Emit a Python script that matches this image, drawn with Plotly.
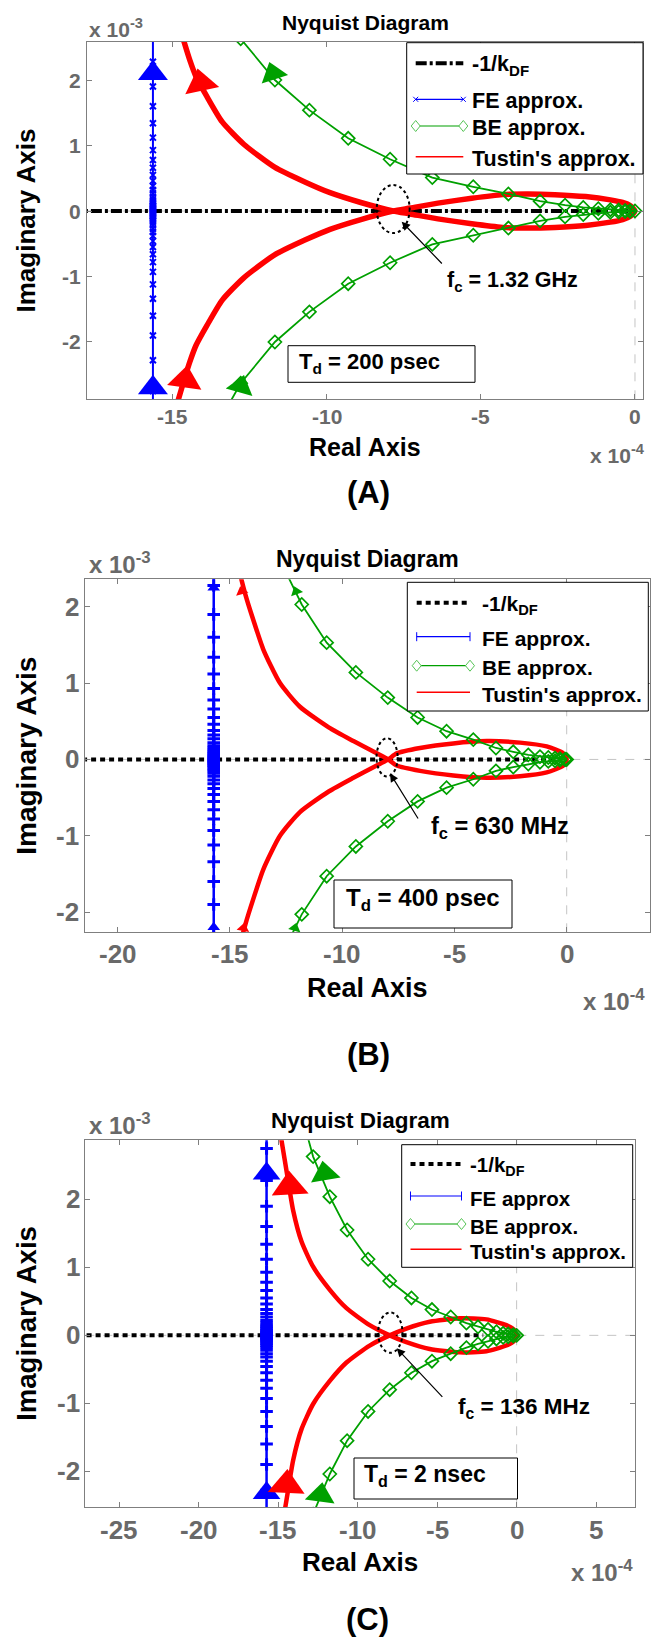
import plotly.graph_objects as go

W, H = 652, 1638
FONT = "Liberation Sans, Arial, sans-serif"
TICK_GRAY = "#696969"
AXIS_GRAY = "#7f7f7f"
BLUE = "#0000ff"
GREEN = "#00a000"
RED = "#ff0000"

# Real parts in units of 1e-4, imaginary parts in units of 1e-3.
# Each locus is stored for one frequency branch; the other branch is its mirror image.

# FE approximation: vertical locus, imaginary samples above the real axis
FE_IM = [0, 0.015, 0.03, 0.045, 0.06, 0.08, 0.1, 0.125, 0.15, 0.18, 0.22, 0.27,
         0.32, 0.38, 0.46, 0.55, 0.66, 0.78, 0.93, 1.12, 1.34, 1.6, 1.9, 2.28, 2.75, 3.35]

# (A) Td = 200 psec
A_FE_RE = -15.65
A_BE_RE = [0, -0.16, -0.32, -0.53, -0.8, -1.19, -1.68, -2.27, -3.08, -4.11, -5.25,
           -6.58, -7.95, -9.31, -10.57, -11.69, -12.8, -13.6]
A_BE_IM = [0, 0.005, 0.01, 0.015, 0.02, 0.035, 0.055, 0.09, 0.15, 0.26, 0.37,
           0.51, 0.79, 1.11, 1.54, 2.0, 2.63, 3.3]
A_TU_RE = [0, -0.15, -0.4, -0.8, -1.6, -2.6, -3.5, -4.3, -5.3, -6.4, -7.3, -7.85,
           -8.9, -9.9, -10.7, -11.7, -12.7, -13.4, -13.9, -14.25, -14.45, -14.65, -14.9]
A_TU_IM = [0, -0.08, -0.13, -0.17, -0.22, -0.25, -0.26, -0.25, -0.195, -0.12, -0.045, 0,
           0.13, 0.28, 0.44, 0.67, 1.02, 1.36, 1.75, 2.05, 2.3, 2.6, 3.0]
A_KDF_RE = [-30.0, 0.0]
A_FC_RE = -7.85
A_ARROW_RE = [-15.65, -15.65, -14.1, -14.6, -11.75, -12.8]
A_ARROW_IM = [2.1, -2.7, 1.95, -2.58, 2.1, -2.68]
A_XTICKS = [-15, -10, -5, 0]
A_YTICKS = [-2, -1, 0, 1, 2]

# (B) Td = 400 psec
B_FE_RE = -15.72
B_BE_RE = [0, -0.07, -0.3, -0.52, -0.82, -1.19, -1.71, -2.38, -3.15, -4.16, -5.35,
           -6.64, -7.97, -9.39, -10.69, -11.8, -12.8, -13.6]
B_BE_IM = [0, 0.003, 0.01, 0.018, 0.025, 0.037, 0.06, 0.1, 0.15, 0.26, 0.37,
           0.55, 0.81, 1.14, 1.53, 2.03, 2.63, 3.3]
B_TU_RE = [0, -0.15, -0.89, -2.08, -3.56, -5.05, -6.53, -7.57, -7.95, -8.46, -9.5,
           -10.6, -11.88, -12.77, -13.51, -13.96, -14.3, -14.6, -14.85]
B_TU_IM = [0, -0.08, -0.17, -0.22, -0.24, -0.21, -0.15, -0.08, 0, 0.08, 0.24,
           0.42, 0.69, 1.0, 1.44, 1.83, 2.15, 2.5, 2.9]
B_KDF_RE = [-30.0, -0.3]
B_FC_RE = -8.0
B_ARROW_RE = [-15.72, -15.72, -14.48, -14.4, -12.05, -12.1]
B_ARROW_IM = [2.25, -2.2, 2.2, -2.21, 2.2, -2.21]
B_XTICKS = [-20, -15, -10, -5, 0]
B_YTICKS = [-2, -1, 0, 1, 2]

# (C) Td = 2 nsec
C_FE_RE = -15.74
C_BE_RE = [0, -0.21, -0.53, -0.85, -1.27, -1.8, -2.43, -3.16, -4.15, -5.33, -6.62,
           -7.99, -9.35, -10.67, -11.76, -12.81, -13.6]
C_BE_IM = [0, 0.01, 0.02, 0.03, 0.053, 0.088, 0.126, 0.18, 0.27, 0.38, 0.55,
           0.8, 1.12, 1.55, 2.04, 2.63, 3.3]
C_TU_RE = [0, -0.15, -0.65, -1.9, -3.58, -5.47, -6.94, -7.99, -9.25, -10.71, -11.76,
           -12.81, -13.54, -14.07, -14.4, -14.8, -15.1]
C_TU_IM = [0, -0.08, -0.15, -0.235, -0.25, -0.2, -0.1, 0, 0.15, 0.4, 0.67,
           1.01, 1.38, 1.84, 2.3, 2.87, 3.3]
C_KDF_RE = [-35.0, -2.1]
C_FC_RE = -7.95
C_ARROW_RE = [-15.74, -15.74, -14.28, -14.48, -12.08, -12.34]
C_ARROW_IM = [2.38, -2.32, 2.19, -2.2, 2.38, -2.35]
C_XTICKS = [-25, -20, -15, -10, -5, 0, 5]
C_YTICKS = [-2, -1, 0, 1, 2]

ARROW_COLORS = [BLUE, BLUE, RED, RED, GREEN, GREEN]


def fx(px):
    return px / W


def fy(py):
    return 1 - py / H


PANELS = [
    dict(
        tag="(A)", td="T<sub>d</sub> = 200 psec", fc="f<sub>c</sub> = 1.32 GHz",
        fe_re=A_FE_RE, be_re=A_BE_RE, be_im=A_BE_IM, tu_re=A_TU_RE, tu_im=A_TU_IM,
        kdf_re=A_KDF_RE, fc_re=A_FC_RE, arr_re=A_ARROW_RE, arr_im=A_ARROW_IM,
        box=(86.7, 41.7, 643.3, 399.3), xr=[-17.8, 0.27], yr=[-2.875, 2.585],
        xt=A_XTICKS, yt=A_YTICKS, tick=21, xtick_y=416, ytick_gap=4,
        title=(365, 22.5, 21), exp3=(86.7, 27.5, 21), ylab=(26, 220.5, 26),
        xlab=(365, 447, 25), exp4=(587.5, 453.5, 21), tagpos=(368, 492, 31),
        tdbox=(288, 345.7, 475, 382.3), tdtext=(296.7, 362.5, 22),
        fctext=(445, 281.7, 21.5), fcarrow=(401.7, 221.7, 443.3, 265),
        ell=(0.535, 0.367, 0.03),
        kdf_dash="11px,3px,3px,3px", fe_sym="x-thin", fe_size=6, fe_mlw=2, fe_lw=2,
        tu_lw=5.5, be_lw=1.8,
        arr_size=[26, 26, 30, 30, 24, 24], arr_ang=[0, 0, -12, 8, -18, 16],
        leg_box=(406.7, 42.7, 643, 174), leg_rows=[63.3, 99.3, 126, 156.7],
        leg_x=(415.7, 463.3), leg_tx=470, leg_size=21.5,
        leg_labels=["-1/k<sub>DF</sub>", "FE approx.", "BE approx.", "Tustin's approx."],
    ),
    dict(
        tag="(B)", td="T<sub>d</sub> = 400 psec", fc="f<sub>c</sub> = 630 MHz",
        fe_re=B_FE_RE, be_re=B_BE_RE, be_im=B_BE_IM, tu_re=B_TU_RE, tu_im=B_TU_IM,
        kdf_re=B_KDF_RE, fc_re=B_FC_RE, arr_re=B_ARROW_RE, arr_im=B_ARROW_IM,
        box=(85.3, 579.3, 650, 932.3), xr=[-21.44, 3.71], yr=[-2.265, 2.36],
        xt=B_XTICKS, yt=B_YTICKS, tick=26, xtick_y=954, ytick_gap=4,
        title=(367.6, 559, 23), exp3=(86.7, 562.5, 24), ylab=(27, 755.8, 28),
        xlab=(367, 988, 27), exp4=(581, 1000, 24), tagpos=(368, 1054, 31),
        tdbox=(334, 880, 512, 928), tdtext=(344, 899, 24),
        fctext=(429, 827.5, 23.5), fcarrow=(390, 773.3, 419, 820),
        ell=(0.47, 0.25, 0.027),
        kdf_dash="5px,4px", fe_sym="cross-thin", fe_size=9, fe_mlw=3, fe_lw=2.5,
        tu_lw=4.5, be_lw=1.8,
        arr_size=[11, 11, 11, 11, 11, 11], arr_ang=[0, 0, -15, 10, -20, 15],
        leg_box=(407.3, 582.3, 648.3, 711), leg_rows=[602.7, 636.7, 665.7, 692.3],
        leg_x=(416.7, 470), leg_tx=480, leg_size=21,
        leg_labels=["-1/k<sub>DF</sub>", "FE approx.", "BE approx.", "Tustin's approx."],
    ),
    dict(
        tag="(C)", td="T<sub>d</sub> = 2 nsec", fc="f<sub>c</sub> = 136 MHz",
        fe_re=C_FE_RE, be_re=C_BE_RE, be_im=C_BE_IM, tu_re=C_TU_RE, tu_im=C_TU_IM,
        kdf_re=C_KDF_RE, fc_re=C_FC_RE, arr_re=C_ARROW_RE, arr_im=C_ARROW_IM,
        box=(85.3, 1140.3, 635.3, 1507.3), xr=[-27.15, 7.47], yr=[-2.53, 2.87],
        xt=C_XTICKS, yt=C_YTICKS, tick=26, xtick_y=1530, ytick_gap=3,
        title=(360.3, 1120.5, 22.5), exp3=(86.7, 1124, 24), ylab=(27, 1323.8, 27.5),
        xlab=(360, 1562, 26), exp4=(569, 1571, 24), tagpos=(367, 1619, 31),
        tdbox=(354, 1458, 517.5, 1499), tdtext=(362.5, 1475.6, 23),
        fctext=(456, 1407.5, 22.5), fcarrow=(396.7, 1348.3, 443.75, 1398.3),
        ell=(0.765, 0.297, 0.04),
        kdf_dash="5px,4px", fe_sym="cross-thin", fe_size=9, fe_mlw=3, fe_lw=2.5,
        tu_lw=4.5, be_lw=1.8,
        arr_size=[24, 24, 32, 32, 26, 26], arr_ang=[0, 0, -3, 3, -10, 8],
        leg_box=(401.7, 1144.7, 632.7, 1267.3), leg_rows=[1164, 1196, 1224, 1249.3],
        leg_x=(410.5, 461.5), leg_tx=468, leg_size=20.5,
        leg_labels=["-1/k<sub>DF</sub>", "FE approx", "BE approx.", "Tustin's approx."],
    ),
]

fig = go.Figure()
shapes = []
annotations = []


def label(x, y, s, size, color="black", xanchor="center", yanchor="middle", angle=0):
    annotations.append(dict(
        x=fx(x), y=fy(y), xref="paper", yref="paper", text="<b>%s</b>" % s,
        showarrow=False, xanchor=xanchor, yanchor=yanchor, textangle=angle,
        font=dict(family=FONT, size=size, color=color, weight="bold")))


def mirror_branch(re, im):
    """Join the mirrored branch (reversed) with the stored branch."""
    xs = list(reversed(re)) + list(re[1:])
    ys = [-v for v in reversed(im)] + list(im[1:])
    return xs, ys


layout_axes = {}
for n, p in enumerate(PANELS, start=1):
    sfx = "" if n == 1 else str(n)
    xa, ya = "x" + sfx, "y" + sfx
    l, t, r, b = p["box"]

    axis_common = dict(
        showgrid=False, zeroline=False, showline=True, linecolor=AXIS_GRAY, linewidth=1,
        mirror="ticks", ticks="inside", ticklen=5, tickcolor=AXIS_GRAY,
        showticklabels=False, tickmode="array",
    )
    layout_axes["xaxis" + sfx] = dict(
        axis_common, domain=[fx(l), fx(r)], range=p["xr"], anchor=ya, tickvals=p["xt"])
    layout_axes["yaxis" + sfx] = dict(
        axis_common, domain=[fy(b), fy(t)], range=p["yr"], anchor=xa, tickvals=p["yt"])

    # tick labels, placed on the axis values
    tfont = dict(family=FONT, size=p["tick"], color=TICK_GRAY, weight="bold")
    for v in p["xt"]:
        annotations.append(dict(
            x=v, xref=xa, y=fy(p["xtick_y"]), yref="paper", text="<b>%d</b>" % v,
            showarrow=False, xanchor="center", yanchor="middle", font=tfont))
    for v in p["yt"]:
        annotations.append(dict(
            x=fx(l - p["ytick_gap"]), xref="paper", y=v, yref=ya, text="<b>%d</b>" % v,
            showarrow=False, xanchor="right", yanchor="middle", font=tfont))

    # -1/k_DF locus on the real axis
    fig.add_trace(go.Scatter(
        x=p["kdf_re"], y=[0] * len(p["kdf_re"]), mode="lines", xaxis=xa, yaxis=ya,
        line=dict(color="black", width=4, dash=p["kdf_dash"]), hoverinfo="skip"))

    # FE approximation
    fe_y = [-v for v in reversed(FE_IM)] + FE_IM[1:]
    fig.add_trace(go.Scatter(
        x=[p["fe_re"]] * len(fe_y), y=fe_y, mode="lines+markers", xaxis=xa, yaxis=ya,
        line=dict(color=BLUE, width=p["fe_lw"]),
        marker=dict(symbol=p["fe_sym"], size=p["fe_size"], color=BLUE, opacity=1,
                    line=dict(color=BLUE, width=p["fe_mlw"]))))

    # Tustin's approximation
    tx, ty = mirror_branch(p["tu_re"], p["tu_im"])
    fig.add_trace(go.Scatter(
        x=tx, y=ty, mode="lines", xaxis=xa, yaxis=ya,
        line=dict(color=RED, width=p["tu_lw"], shape="spline", smoothing=0.6)))

    # BE approximation
    bx, by = mirror_branch(p["be_re"], p["be_im"])
    fig.add_trace(go.Scatter(
        x=bx, y=by, mode="lines+markers", xaxis=xa, yaxis=ya,
        line=dict(color=GREEN, width=p["be_lw"]),
        marker=dict(symbol="diamond-open", size=10, color=GREEN, opacity=1,
                    line=dict(width=1.7))))

    # direction arrows
    fig.add_trace(go.Scatter(
        x=p["arr_re"], y=p["arr_im"], mode="markers", xaxis=xa, yaxis=ya,
        marker=dict(symbol="triangle-up", size=p["arr_size"], color=ARROW_COLORS,
                    angle=p["arr_ang"], opacity=1, line=dict(width=0))))

    # dashed zero lines
    shapes.append(dict(type="line", xref=xa, yref=ya + " domain", x0=0, x1=0, y0=0, y1=1,
                       line=dict(color="#c4c4c4", width=1, dash="dash"), layer="below"))
    shapes.append(dict(type="line", xref=xa + " domain", yref=ya, x0=0, x1=1, y0=0, y1=0,
                       line=dict(color="#c4c4c4", width=1, dash="dash"), layer="below"))

    # dotted ellipse around the crossing frequency
    hw, hh, cy = p["ell"]
    shapes.append(dict(type="circle", xref=xa, yref=ya,
                       x0=p["fc_re"] - hw, x1=p["fc_re"] + hw, y0=cy - hh, y1=cy + hh,
                       line=dict(color="black", width=2, dash="dot"), layer="above"))

    # Td box
    x0, y0, x1, y1 = p["tdbox"]
    shapes.append(dict(type="rect", xref="paper", yref="paper",
                       x0=fx(x0), x1=fx(x1), y0=fy(y1), y1=fy(y0),
                       fillcolor="white", line=dict(color="black", width=1), layer="above"))
    tx0, ty0, ts = p["tdtext"]
    label(tx0, ty0, p["td"], ts, xanchor="left")

    # crossing-frequency label and pointer
    fx0, fy0, fs = p["fctext"]
    label(fx0, fy0, p["fc"], fs, xanchor="left")
    ax0, ay0, ax1, ay1 = p["fcarrow"]
    annotations.append(dict(
        x=fx(ax0), y=fy(ay0), xref="paper", yref="paper", text="", showarrow=True,
        ax=ax1 - ax0, ay=ay1 - ay0, arrowhead=2, arrowsize=1.4, arrowwidth=1.2,
        arrowcolor="black", standoff=0))

    # titles and axis labels
    x, y, s = p["title"]
    label(x, y, "Nyquist Diagram", s)
    x, y, s = p["exp3"]
    label(x, y, "x 10<sup>-3</sup>", s, color=TICK_GRAY, xanchor="left")
    x, y, s = p["ylab"]
    label(x, y, "Imaginary Axis", s, angle=-90)
    x, y, s = p["xlab"]
    label(x, y, "Real Axis", s)
    x, y, s = p["exp4"]
    label(x, y, "x 10<sup>-4</sup>", s, color=TICK_GRAY, xanchor="left")
    x, y, s = p["tagpos"]
    label(x, y, p["tag"], s)

    # legend
    lx0, ly0, lx1, ly1 = p["leg_box"]
    shapes.append(dict(type="rect", xref="paper", yref="paper",
                       x0=fx(lx0), x1=fx(lx1), y0=fy(ly1), y1=fy(ly0),
                       fillcolor="white", line=dict(color="black", width=1), layer="above"))
    sx0, sx1 = p["leg_x"]
    rows = p["leg_rows"]
    styles = [
        dict(color="black", width=4, dash=p["kdf_dash"]),
        dict(color=BLUE, width=1.2),
        dict(color=GREEN, width=1.2),
        dict(color=RED, width=1.5),
    ]
    for ry, st in zip(rows, styles):
        shapes.append(dict(type="line", xref="paper", yref="paper",
                           x0=fx(sx0), x1=fx(sx1), y0=fy(ry), y1=fy(ry),
                           line=st, layer="above"))
    for ex in (sx0, sx1):
        ry = rows[1]
        if p["fe_sym"] == "x-thin":
            d = 2.5
            path = "M%f,%f L%f,%f M%f,%f L%f,%f" % (
                fx(ex - d), fy(ry - d), fx(ex + d), fy(ry + d),
                fx(ex - d), fy(ry + d), fx(ex + d), fy(ry - d))
        else:
            d = 4.5
            path = "M%f,%f L%f,%f" % (fx(ex), fy(ry - d), fx(ex), fy(ry + d))
        shapes.append(dict(type="path", xref="paper", yref="paper", path=path,
                           line=dict(color=BLUE, width=1), layer="above"))
        ry = rows[2]
        path = "M%f,%f L%f,%f L%f,%f L%f,%f Z" % (
            fx(ex), fy(ry - 5.5), fx(ex + 4.5), fy(ry), fx(ex), fy(ry + 5.5), fx(ex - 4.5), fy(ry))
        shapes.append(dict(type="path", xref="paper", yref="paper", path=path,
                           fillcolor="white", line=dict(color="#55c455", width=1), layer="above"))
    for ry, txt in zip(rows, p["leg_labels"]):
        label(p["leg_tx"], ry + 2, txt, p["leg_size"], xanchor="left")

fig.update_layout(
    width=W, height=H, margin=dict(l=0, r=0, t=0, b=0),
    paper_bgcolor="white", plot_bgcolor="rgba(0,0,0,0)",
    showlegend=False, shapes=shapes, annotations=annotations,
    **layout_axes,
)

fig.write_html("out.html")
